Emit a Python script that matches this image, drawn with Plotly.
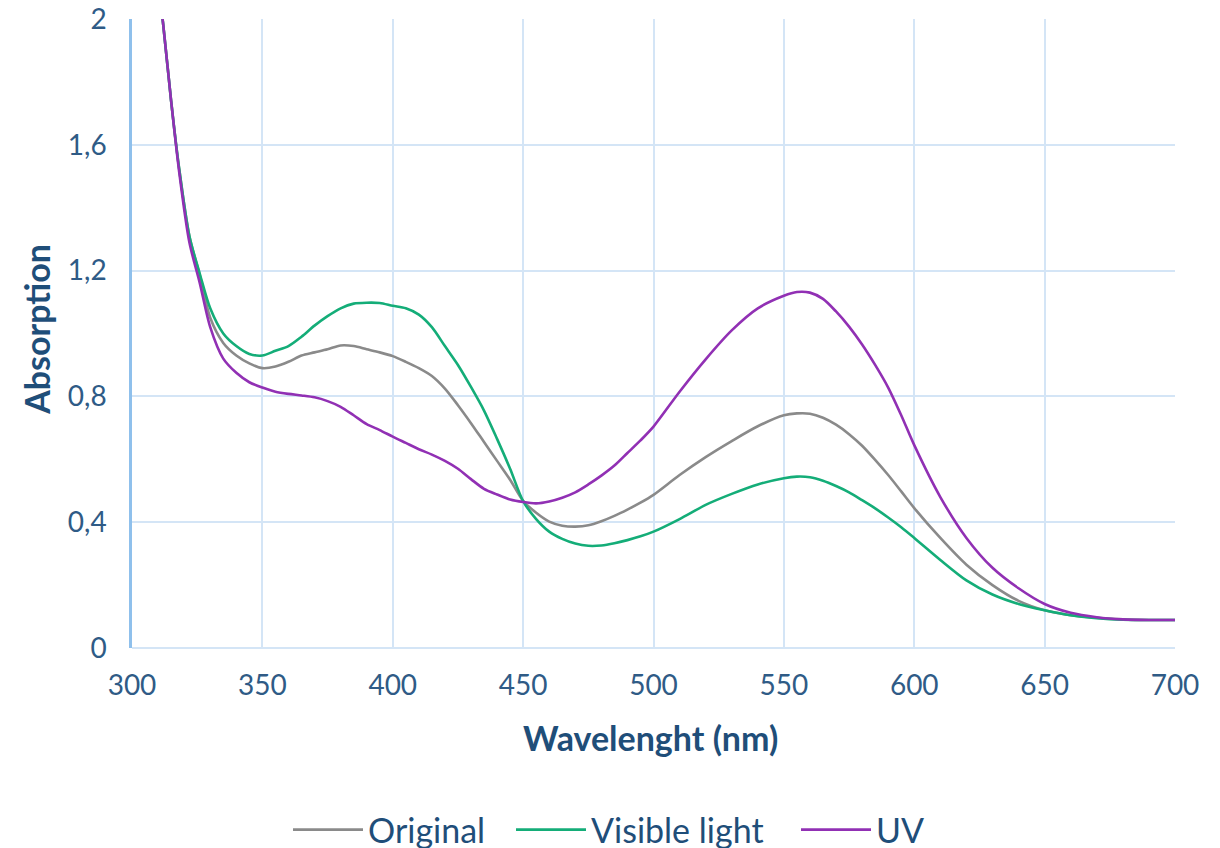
import plotly.graph_objects as go

wavelength = [310, 312, 315, 318, 322, 326, 330, 335, 340, 345, 350, 355, 360, 365, 370,
              375, 380, 385, 390, 395, 400, 405, 410, 415, 420, 425, 430, 435, 440, 445,
              450, 455, 460, 465, 470, 475, 480, 485, 490, 495, 500, 510, 520, 530, 540,
              550, 555, 560, 565, 570, 575, 580, 585, 590, 595, 600, 610, 620, 630, 640,
              650, 660, 670, 680, 690, 700]

original = [2.12, 1.98, 1.74, 1.53, 1.31, 1.185, 1.05, 0.97, 0.93, 0.905, 0.89, 0.895, 0.91, 0.93, 0.94,
            0.95, 0.962, 0.96, 0.95, 0.94, 0.928, 0.91, 0.89, 0.865, 0.825, 0.772, 0.715, 0.655, 0.595, 0.535,
            0.468, 0.43, 0.402, 0.389, 0.386, 0.39, 0.403, 0.42, 0.44, 0.462, 0.487, 0.55, 0.607, 0.658, 0.705,
            0.74, 0.746, 0.745, 0.732, 0.71, 0.68, 0.643, 0.598, 0.55, 0.498, 0.445, 0.35, 0.265, 0.20, 0.15,
            0.12, 0.104, 0.096, 0.091, 0.089, 0.089]

visible_light = [2.12, 1.98, 1.74, 1.53, 1.31, 1.19, 1.08, 1.0, 0.96, 0.935, 0.93, 0.945, 0.96, 0.99, 1.025,
                 1.055, 1.08, 1.095, 1.098, 1.097, 1.088, 1.08, 1.06, 1.02, 0.96, 0.90, 0.83, 0.755, 0.665, 0.57,
                 0.467, 0.41, 0.37, 0.347, 0.332, 0.325, 0.326, 0.333, 0.343, 0.355, 0.37, 0.41, 0.455, 0.49, 0.52,
                 0.54, 0.545, 0.543, 0.532, 0.515, 0.495, 0.47, 0.444, 0.415, 0.384, 0.35, 0.28, 0.215, 0.17, 0.14,
                 0.12, 0.104, 0.095, 0.09, 0.089, 0.089]

uv = [2.12, 1.98, 1.74, 1.52, 1.29, 1.16, 1.02, 0.92, 0.875, 0.845, 0.828, 0.815, 0.808, 0.803, 0.797,
      0.785, 0.767, 0.74, 0.712, 0.693, 0.672, 0.652, 0.632, 0.615, 0.595, 0.57, 0.537, 0.506, 0.488, 0.472,
      0.464, 0.46, 0.466, 0.478, 0.495, 0.52, 0.548, 0.58, 0.62, 0.66, 0.704, 0.815, 0.918, 1.01, 1.08,
      1.12, 1.132, 1.13, 1.11, 1.07, 1.022, 0.965, 0.9, 0.828, 0.74, 0.645, 0.48, 0.35, 0.255, 0.19,
      0.14, 0.112, 0.098, 0.091, 0.089, 0.089]

series_names = ["Original", "Visible light", "UV"]
series_colors = ["#8a8a8a", "#14ad78", "#9130b4"]
legend_left_px = [295, 518, 803]

x_ticks = [300, 350, 400, 450, 500, 550, 600, 650, 700]
y_ticks = [0, 0.4, 0.8, 1.2, 1.6, 2]
y_tick_labels = ["0", "0,4", "0,8", "1,2", "1,6", "2"]

# page body has an 8px margin; figure sized so it fits the 1220x848 window
OFF = 8
W, H = 1220 - OFF, 848 - OFF
TXT = "#1f4e79"
TICK = "#2f5b86"
GRID = "#d4e5f6"
FONT = "Lato"

fig = go.Figure()
legend_ids = ["legend", "legend2", "legend3"]
for name, ys, col, lid in zip(series_names, [original, visible_light, uv], series_colors, legend_ids):
    fig.add_trace(go.Scatter(x=wavelength, y=ys, mode="lines", name=name, legend=lid,
                             line=dict(color=col, width=2.6, shape="spline", smoothing=0.8)))

leg_common = dict(orientation="h", yref="container", xref="container", y=(H - (830 - OFF)) / H,
                  yanchor="middle", xanchor="left", font=dict(size=34, color=TXT, family=FONT),
                  itemwidth=70, bgcolor="rgba(0,0,0,0)", borderwidth=0)
legends = {}
for lid, lx in zip(legend_ids, legend_left_px):
    legends[lid] = dict(leg_common, x=(lx - OFF - 7) / W)

fig.update_layout(
    width=W, height=H,
    margin=dict(l=132 - OFF, r=45, t=19 - OFF, b=200),
    plot_bgcolor="white", paper_bgcolor="white",
    font=dict(family=FONT, color=TXT),
    showlegend=True,
    annotations=[
        dict(text="<b>Wavelenght (nm)</b>", xref="paper", yref="paper", x=0.497, y=-0.143,
             showarrow=False, font=dict(size=34, color=TXT, family=FONT), xanchor="center", yanchor="middle"),
        dict(text="<b>Absorption</b>", xref="paper", yref="paper", x=-0.091, y=0.506, textangle=-90,
             showarrow=False, font=dict(size=34, color=TXT, family=FONT), xanchor="center", yanchor="middle"),
    ],
    **legends,
)
fig.update_xaxes(range=[300, 700], tickvals=x_ticks, showgrid=True, gridcolor=GRID, gridwidth=2,
                 zeroline=False, showline=False, ticks="", ticklabelstandoff=18, automargin=False,
                 ticklabeloverflow="allow",
                 tickfont=dict(size=28, color=TICK, family=FONT), fixedrange=True)
fig.update_yaxes(range=[0, 2], tickvals=y_ticks, ticktext=y_tick_labels, showgrid=True, gridcolor=GRID,
                 gridwidth=2, zeroline=True, zerolinecolor=GRID, zerolinewidth=2, automargin=False,
                 showline=True, linecolor="#8fc0ec", linewidth=2.5, ticks="", ticklabelstandoff=17,
                 ticklabeloverflow="allow",
                 tickfont=dict(size=28, color=TICK, family=FONT), fixedrange=True)

fig.write_html("out.html")
